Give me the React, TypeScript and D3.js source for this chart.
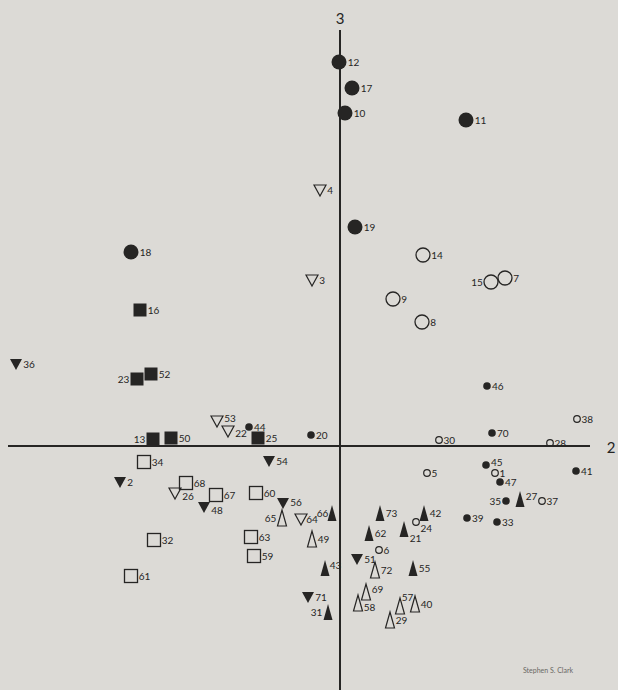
import React from "react";
import * as d3 from "d3";

type P = { id: number; x: number; y: number };

// Data (dimension 2 on x, dimension 3 on y)
const bigFilledCircles: P[] = [
  { id: 12, x: -0.01, y: 3.84 }, { id: 17, x: 0.12, y: 3.58 }, { id: 10, x: 0.05, y: 3.33 },
  { id: 11, x: 1.26, y: 3.26 }, { id: 19, x: 0.15, y: 2.19 }, { id: 18, x: -2.09, y: 1.94 },
];
const bigOpenCircles: P[] = [
  { id: 14, x: 0.83, y: 1.91 }, { id: 15, x: 1.51, y: 1.64 }, { id: 7, x: 1.65, y: 1.68 },
  { id: 9, x: 0.53, y: 1.47 }, { id: 8, x: 0.82, y: 1.24 },
];
const openDownTriangles: P[] = [
  { id: 4, x: -0.2, y: 2.56 }, { id: 3, x: -0.28, y: 1.66 }, { id: 53, x: -1.23, y: 0.25 },
  { id: 22, x: -1.12, y: 0.15 }, { id: 26, x: -1.65, y: -0.47 }, { id: 64, x: -0.39, y: -0.73 },
];
const filledDownTriangles: P[] = [
  { id: 36, x: -3.24, y: 0.82 }, { id: 2, x: -2.2, y: -0.36 }, { id: 48, x: -1.36, y: -0.61 },
  { id: 54, x: -0.71, y: -0.15 }, { id: 56, x: -0.57, y: -0.57 }, { id: 51, x: 0.17, y: -1.13 },
  { id: 71, x: -0.32, y: -1.51 },
];
const filledSquares: P[] = [
  { id: 16, x: -2.0, y: 1.36 }, { id: 23, x: -2.03, y: 0.67 }, { id: 52, x: -1.89, y: 0.72 },
  { id: 13, x: -1.87, y: 0.07 }, { id: 50, x: -1.69, y: 0.08 }, { id: 25, x: -0.82, y: 0.08 },
];
const openSquares: P[] = [
  { id: 34, x: -1.96, y: -0.16 }, { id: 68, x: -1.54, y: -0.37 }, { id: 67, x: -1.24, y: -0.49 },
  { id: 60, x: -0.84, y: -0.47 }, { id: 32, x: -1.86, y: -0.94 }, { id: 63, x: -0.89, y: -0.91 },
  { id: 59, x: -0.86, y: -1.1 }, { id: 61, x: -2.09, y: -1.3 },
];
const smallFilledCircles: P[] = [
  { id: 44, x: -0.91, y: 0.19 }, { id: 20, x: -0.29, y: 0.11 }, { id: 46, x: 1.47, y: 0.6 },
  { id: 70, x: 1.52, y: 0.13 }, { id: 45, x: 1.46, y: -0.19 }, { id: 47, x: 1.6, y: -0.36 },
  { id: 35, x: 1.66, y: -0.55 }, { id: 39, x: 1.27, y: -0.72 }, { id: 33, x: 1.57, y: -0.76 },
  { id: 41, x: 2.36, y: -0.25 },
];
const smallOpenCircles: P[] = [
  { id: 38, x: 2.37, y: 0.27 }, { id: 30, x: 0.99, y: 0.06 }, { id: 28, x: 2.1, y: 0.03 },
  { id: 5, x: 0.87, y: -0.27 }, { id: 1, x: 1.55, y: -0.27 }, { id: 37, x: 2.02, y: -0.55 },
  { id: 24, x: 0.76, y: -0.76 }, { id: 6, x: 0.39, y: -1.04 },
];
const filledUpTriangles: P[] = [
  { id: 66, x: -0.08, y: -0.67 }, { id: 73, x: 0.4, y: -0.67 }, { id: 42, x: 0.84, y: -0.67 },
  { id: 21, x: 0.64, y: -0.83 }, { id: 62, x: 0.29, y: -0.87 }, { id: 43, x: -0.15, y: -1.22 },
  { id: 55, x: 0.73, y: -1.22 }, { id: 31, x: -0.12, y: -1.66 }, { id: 27, x: 1.8, y: -0.53 },
];
const openUpTriangles: P[] = [
  { id: 65, x: -0.58, y: -0.72 }, { id: 49, x: -0.28, y: -0.93 }, { id: 72, x: 0.35, y: -1.24 },
  { id: 69, x: 0.26, y: -1.46 }, { id: 58, x: 0.18, y: -1.57 }, { id: 57, x: 0.6, y: -1.6 },
  { id: 40, x: 0.75, y: -1.58 }, { id: 29, x: 0.5, y: -1.74 },
];
const axisLabels = { x: "2", y: "3" };
const credit = "Stephen S. Clark";

// label placement (styling)
const leftLabels = new Set([15, 23, 13, 35, 31, 66, 65]);
const labelShift: Record<number, [number, number]> = {
  21: [0, 9], 24: [0, 6], 57: [-4, -9], 58: [0, 4], 69: [0, -3], 27: [0, -3],
  53: [0, -3], 22: [0, 2], 26: [0, 3], 48: [0, 3], 45: [0, -3], 43: [-1, -3], 56: [0, -1],
  64: [-2, 0], 66: [2, 0],
};

const W = 618, H = 690;
const x = d3.scaleLinear().domain([-3.4, 2.78]).range([0, W]);
const y = d3.scaleLinear().domain([4.46, -2.44]).range([0, H]);

const INK = "#262524";
const FONT = "Lato, 'DejaVu Sans', sans-serif";

type Kind = "bigF" | "bigO" | "downO" | "downF" | "sqF" | "sqO" | "smF" | "smO" | "upF" | "upO";

const halfW: Record<Kind, number> = {
  bigF: 7.5, bigO: 7, downO: 6, downF: 6, sqF: 6.5, sqO: 6.5, smF: 3.8, smO: 3.3, upF: 4.5, upO: 4.5,
};

function Marker({ kind, cx, cy }: { kind: Kind; cx: number; cy: number }) {
  switch (kind) {
    case "bigF": return <circle cx={cx} cy={cy} r={7.5} fill={INK} />;
    case "bigO": return <circle cx={cx} cy={cy} r={7} fill="none" stroke={INK} strokeWidth={1.3} />;
    case "smF": return <circle cx={cx} cy={cy} r={3.8} fill={INK} />;
    case "smO": return <circle cx={cx} cy={cy} r={3.3} fill="none" stroke={INK} strokeWidth={1.2} />;
    case "sqF": return <rect x={cx - 6.5} y={cy - 6.5} width={13} height={13} fill={INK} />;
    case "sqO": return <rect x={cx - 6.5} y={cy - 6.5} width={13} height={13} fill="none" stroke={INK} strokeWidth={1.3} />;
    case "downF":
    case "downO": {
      const d = `M${cx - 6},${cy - 5}L${cx + 6},${cy - 5}L${cx},${cy + 6}Z`;
      return kind === "downF"
        ? <path d={d} fill={INK} />
        : <path d={d} fill="none" stroke={INK} strokeWidth={1.2} strokeLinejoin="miter" />;
    }
    case "upF":
    case "upO": {
      const d = `M${cx - 4.5},${cy + 8}L${cx + 4.5},${cy + 8}L${cx},${cy - 8}Z`;
      return kind === "upF"
        ? <path d={d} fill={INK} />
        : <path d={d} fill="none" stroke={INK} strokeWidth={1.2} />;
    }
  }
  return null;
}

const groups: [Kind, P[]][] = [
  ["bigF", bigFilledCircles], ["bigO", bigOpenCircles], ["downO", openDownTriangles],
  ["downF", filledDownTriangles], ["sqF", filledSquares], ["sqO", openSquares],
  ["smF", smallFilledCircles], ["smO", smallOpenCircles], ["upF", filledUpTriangles],
  ["upO", openUpTriangles],
];

export default function App() {
  const x0 = x(0), y0 = y(0);
  return (
    <svg width={W} height={H} style={{ position: "fixed", left: 0, top: 0, background: "#dcdad6" }}
      xmlns="http://www.w3.org/2000/svg">
      <rect width={W} height={H} fill="#dcdad6" />
      <line x1={x0} x2={x0} y1={30} y2={H} stroke={INK} strokeWidth={2} />
      <line x1={8} x2={590} y1={y0} y2={y0} stroke={INK} strokeWidth={2} />
      <text x={x0} y={24} textAnchor="middle" fontFamily={FONT} fontSize={15} fill={INK}>{axisLabels.y}</text>
      <text x={611} y={y0 + 7} textAnchor="middle" fontFamily={FONT} fontSize={15} fill={INK}>{axisLabels.x}</text>
      {groups.map(([kind, pts]) => (
        <g key={kind}>
          {pts.map((p) => {
            const cx = x(p.x), cy = y(p.y);
            const left = leftLabels.has(p.id);
            const [dx, dy] = labelShift[p.id] || [0, 0];
            const off = halfW[kind] + 1.2;
            return (
              <g key={p.id}>
                <Marker kind={kind} cx={cx} cy={cy} />
                <text
                  x={(left ? cx - off : cx + off) + dx}
                  y={cy + 4 + dy}
                  textAnchor={left ? "end" : "start"}
                  fontFamily={FONT}
                  fontSize={10}
                  fill={INK}
                >{p.id}</text>
              </g>
            );
          })}
        </g>
      ))}
      <text x={548} y={673} textAnchor="middle" fontFamily={FONT} fontSize={7} fill="#6a6865">{credit}</text>
    </svg>
  );
}
